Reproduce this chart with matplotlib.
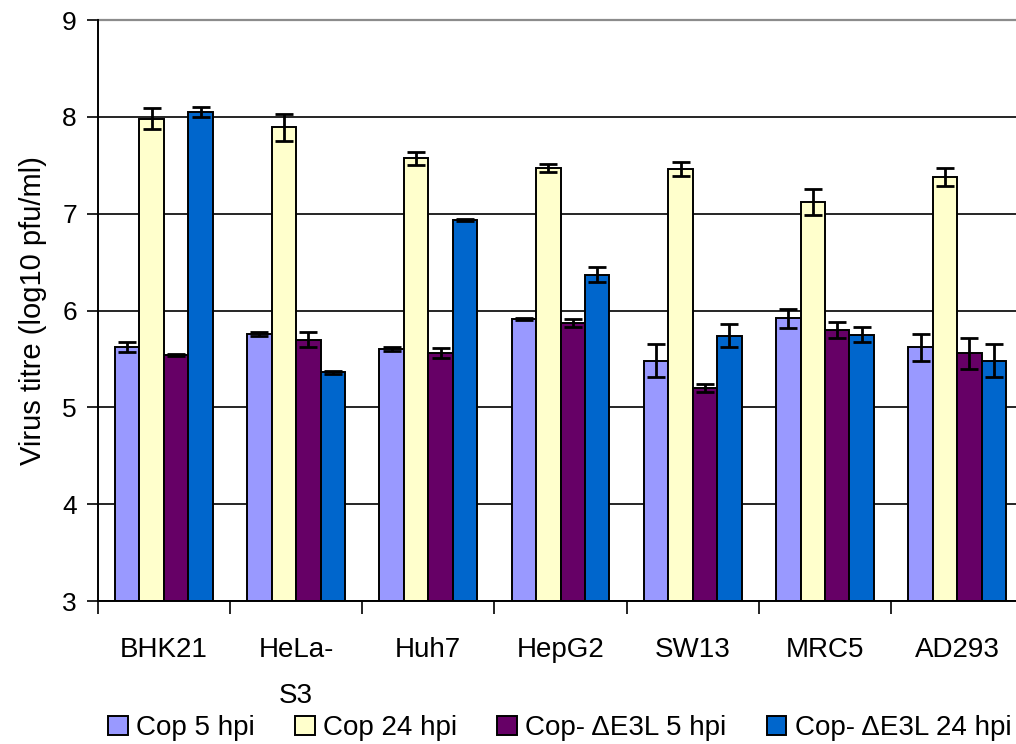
import matplotlib
matplotlib.use("Agg")
import matplotlib.pyplot as plt
import numpy as np

plt.rcParams['font.family'] = ['Liberation Sans', 'DejaVu Sans']

cell_lines = ["BHK21", "HeLa-\nS3", "Huh7", "HepG2", "SW13", "MRC5", "AD293"]
series_names = ["Cop 5 hpi", "Cop 24 hpi", "Cop- \u0394E3L 5 hpi", "Cop- \u0394E3L 24 hpi"]

cop_5 = [5.62, 5.76, 5.60, 5.91, 5.48, 5.92, 5.62]
cop_24 = [7.98, 7.89, 7.57, 7.47, 7.46, 7.12, 7.38]
de3l_5 = [5.54, 5.70, 5.56, 5.87, 5.20, 5.80, 5.56]
de3l_24 = [8.05, 5.36, 6.93, 6.37, 5.74, 5.75, 5.48]

cop_5_err = [0.05, 0.02, 0.02, 0.01, 0.17, 0.10, 0.14]
cop_24_err = [0.11, 0.14, 0.07, 0.04, 0.07, 0.13, 0.09]
de3l_5_err = [0.01, 0.08, 0.05, 0.04, 0.04, 0.08, 0.16]
de3l_24_err = [0.05, 0.02, 0.01, 0.08, 0.12, 0.08, 0.17]

values = [cop_5, cop_24, de3l_5, de3l_24]
errors = [cop_5_err, cop_24_err, de3l_5_err, de3l_24_err]
colors = ["#9999FF", "#FFFFCC", "#660066", "#0066CC"]

fig = plt.figure(figsize=(10.16, 7.44), dpi=100)
ax = fig.add_axes([0.0962, 0.1922, 0.911, 0.7809])

x = np.arange(len(cell_lines))
width = 0.185
bottom = 3
for i, (vals, errs, col, name) in enumerate(zip(values, errors, colors, series_names)):
    pos = x + (i - 1.5) * width
    heights = np.array(vals) - bottom
    ax.bar(pos, heights, width, bottom=bottom, color=col, edgecolor="black",
           linewidth=1.4, label=name, zorder=2)
    ax.errorbar(pos, vals, yerr=errs, fmt="none", ecolor="black",
                elinewidth=2, capsize=6.5, capthick=2, zorder=3)

ax.set_xlim(-0.5, len(cell_lines) - 0.5)
ax.set_ylim(3, 9)
ax.set_yticks(range(3, 10))
ax.yaxis.grid(True, color="black", linewidth=1.2, zorder=0)
ax.set_axisbelow(True)
# upper border of the plotting area
ax.axhline(9, color="#8c8c8c", linewidth=1.6, clip_on=False, zorder=1)

ax.set_xticks(np.arange(len(cell_lines) + 1) - 0.5)
ax.set_xticklabels([])
ax.set_xticks(x, minor=True)
ax.set_xticklabels(cell_lines, minor=True, fontsize=20, linespacing=2.0)
ax.tick_params(axis="x", which="minor", length=0, pad=26)
ax.tick_params(axis="x", which="major", length=9, width=1.2, direction="out")
ax.tick_params(axis="y", length=8, width=1.2, labelsize=19, pad=7)

ax.spines["top"].set_visible(False)
ax.spines["right"].set_visible(False)
ax.spines["left"].set_linewidth(1.4)
ax.spines["bottom"].set_linewidth(1.4)

ax.set_ylabel("Virus titre (log10 pfu/ml)", fontsize=21, labelpad=11)

fig.legend(loc="center", bbox_to_anchor=(0.551, 0.021), ncol=4, frameon=False,
           fontsize=20, handlelength=0.7, handleheight=0.7, handletextpad=0.3,
           columnspacing=1.45, borderaxespad=0, borderpad=0)

fig.savefig("out.png", dpi=100)
